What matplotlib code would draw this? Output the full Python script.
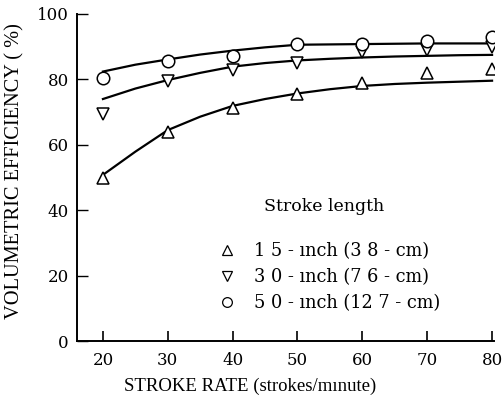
import numpy as np
import matplotlib.pyplot as plt
from matplotlib.lines import Line2D

plt.rcParams['font.family'] = ['DejaVu Serif']

# measured points (strokes/minute vs volumetric efficiency %)
rate = [20, 30, 40, 50, 60, 70, 80]
eff_15 = [49.7, 63.8, 71.4, 75.4, 78.8, 82.0, 83.1]
eff_30 = [69.4, 79.4, 82.9, 85.0, 88.4, 88.9, 90.0]
eff_50 = [80.5, 85.7, 87.3, 90.7, 90.7, 91.8, 92.9]

# fitted curves, every 5 strokes/minute
curve_rate = [20, 25, 30, 35, 40, 45, 50, 55, 60, 65, 70, 75, 80]
fit_15 = [50.8, 57.9, 64.5, 68.6, 71.9, 74.0, 75.7, 77.0, 78.0, 78.6, 79.0, 79.3, 79.6]
fit_30 = [74.0, 77.2, 79.8, 82.0, 83.9, 85.0, 85.8, 86.3, 86.7, 87.0, 87.2, 87.4, 87.5]
fit_50 = [82.4, 84.5, 86.1, 87.6, 88.8, 89.8, 90.6, 90.7, 90.8, 90.9, 91.0, 91.0, 91.0]

labels = ["1 5 - ınch (3 8 - cm)", "3 0 - ınch (7 6 - cm)", "5 0 - ınch (12 7 - cm)"]

fig = plt.figure(figsize=(5.04, 4.04), dpi=100)
ax = fig.add_axes([77 / 504, 1 - 341 / 404, (494 - 77) / 504, (341 - 14) / 404])

for fit in [fit_15, fit_30, fit_50]:
    ax.plot(curve_rate, fit, color="black", lw=1.6, zorder=2)

ms = 8
ax.plot(rate, eff_15, "^", ms=ms, mfc="white", mec="black", mew=1.1, ls="none", zorder=3)
ax.plot(rate, eff_30, "v", ms=ms, mfc="white", mec="black", mew=1.1, ls="none", zorder=3)
ax.plot(rate, eff_50, "o", ms=ms + 1, mfc="white", mec="black", mew=1.1, ls="none", zorder=4)

ax.set_xlim(16, 80.3)
ax.set_ylim(0, 100)
ax.set_xticks(rate)
ax.set_yticks([0, 20, 40, 60, 80, 100])
ax.spines["top"].set_visible(False)
ax.spines["right"].set_visible(False)
ax.spines["left"].set_linewidth(1.4)
ax.spines["bottom"].set_linewidth(1.4)
ax.tick_params(axis="x", direction="in", length=7, width=1.2, labelsize=12, pad=8)
ax.tick_params(axis="y", direction="in", length=8, width=1.0, labelsize=12, pad=6)

ax.set_xlabel("STROKE RATE (strokes/mınute)", fontsize=13.5, family="Liberation Serif")
ax.xaxis.set_label_coords(0.415, -0.112)
ax.set_ylabel("VOLUMETRIC EFFICIENCY ( %)", fontsize=14.7, family="Liberation Serif")
ax.yaxis.set_label_coords(-0.127, 0.52)

handles = [
    Line2D([], [], marker="^", ls="none", ms=7, mfc="white", mec="black", mew=0.9),
    Line2D([], [], marker="v", ls="none", ms=7, mfc="white", mec="black", mew=0.9),
    Line2D([], [], marker="o", ls="none", ms=7, mfc="white", mec="black", mew=0.9),
]
leg = ax.legend(handles, labels, title="Stroke length", frameon=False,
                loc="upper left", bbox_to_anchor=(0.30, 0.46),
                fontsize=12.8, title_fontsize=12.5, handletextpad=0.5,
                labelspacing=0.45, borderaxespad=0)
leg._legend_box.sep = 20

fig.savefig("out.png", dpi=100)
